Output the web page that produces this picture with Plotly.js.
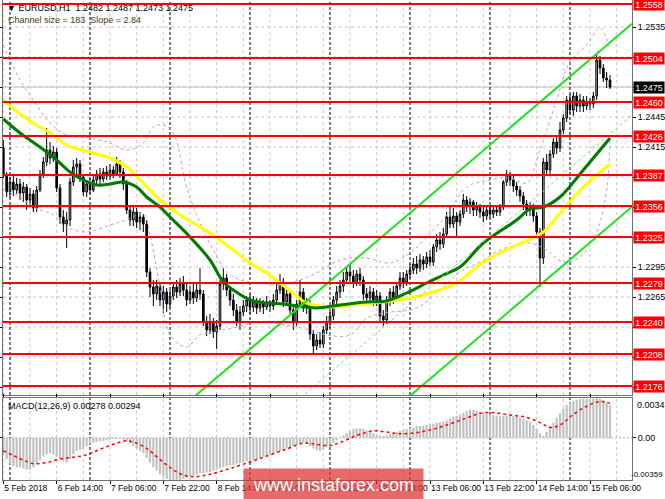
<!DOCTYPE html>
<html><head><meta charset="utf-8">
<script src="https://cdn.plot.ly/plotly-3.0.1.min.js"></script>
<style>html,body{margin:0;padding:0;background:#fff}#chart{width:665px;height:499px}</style>
</head><body><div id="chart"></div>
<script>
// ---- EURUSD H1 candles (prices in 1/10000, e.g. 12414 = 1.2414) ----
const openP = [12414,12387,12370,12380,12372,12378,12369,12375,12362,12368,
12354,12372,12388,12400,12412,12404,12410,12374,12345,12338,
12342,12380,12395,12398,12385,12370,12378,12372,12382,12388,
12383,12390,12386,12392,12388,12398,12390,12378,12352,12342,
12350,12340,12345,12338,12290,12275,12268,12276,12262,12270,
12258,12266,12275,12270,12278,12272,12262,12270,12264,12272,
12268,12240,12232,12240,12230,12236,12278,12284,12272,12262,
12252,12240,12250,12256,12262,12255,12260,12254,12258,12255,
12260,12256,12262,12272,12280,12260,12268,12252,12240,12258,
12270,12254,12258,12228,12216,12222,12218,12232,12240,12246,
12262,12270,12276,12282,12290,12286,12280,12288,12282,12268,
12264,12270,12262,12266,12246,12242,12262,12270,12264,12276,
12284,12280,12288,12292,12298,12294,12302,12298,12305,12300,
12315,12322,12318,12328,12345,12338,12346,12340,12348,12362,
12356,12360,12352,12356,12350,12346,12352,12348,12352,12350,
12355,12380,12388,12382,12376,12372,12366,12358,12352,12356,
12346,12330,12304,12400,12392,12408,12420,12414,12432,12444,
12462,12452,12466,12456,12462,12456,12460,12458,12466,12502,
12494,12484,12482];
const highP = [12422,12390,12385,12388,12384,12383,12380,12378,12374,12372,
12376,12392,12405,12434,12420,12416,12414,12378,12352,12350,
12384,12402,12404,12402,12388,12382,12384,12386,12392,12394,
12394,12396,12398,12396,12405,12402,12394,12382,12356,12356,
12354,12350,12348,12342,12294,12282,12282,12280,12276,12274,
12272,12280,12282,12284,12286,12278,12276,12280,12278,12294,
12272,12246,12248,12244,12242,12282,12294,12288,12276,12268,
12258,12256,12262,12266,12268,12266,12264,12264,12262,12266,
12262,12268,12278,12288,12284,12274,12272,12258,12262,12282,
12274,12264,12262,12232,12228,12230,12236,12246,12252,12266,
12276,12282,12290,12296,12298,12292,12292,12294,12286,12274,
12276,12274,12272,12270,12252,12266,12274,12276,12280,12290,
12290,12292,12298,12304,12306,12308,12306,12310,12312,12318,
12328,12330,12334,12350,12355,12354,12350,12352,12368,12366,
12364,12362,12360,12358,12356,12356,12356,12356,12356,12358,
12382,12392,12390,12386,12380,12376,12370,12362,12360,12358,
12350,12334,12404,12408,12412,12424,12426,12440,12448,12466,
12468,12470,12470,12468,12466,12466,12464,12470,12509,12506,
12498,12490,12487];
const lowP = [12384,12365,12364,12366,12368,12362,12360,12352,12356,12350,
12350,12370,12384,12396,12398,12400,12370,12338,12330,12314,
12336,12376,12388,12380,12366,12365,12368,12370,12378,12378,
12380,12382,12382,12384,12386,12384,12372,12348,12336,12336,
12334,12332,12330,12285,12265,12256,12262,12256,12249,12250,
12254,12262,12264,12266,12266,12256,12258,12258,12260,12262,
12236,12226,12228,12224,12213,12232,12272,12266,12256,12246,
12236,12232,12246,12250,12248,12250,12248,12250,12248,12252,
12250,12252,12258,12268,12255,12256,12248,12232,12236,12254,
12250,12248,12222,12208,12212,12214,12214,12228,12234,12242,
12256,12264,12270,12278,12280,12274,12276,12276,12262,12258,
12258,12256,12256,12240,12236,12238,12256,12258,12260,12272,
12274,12276,12284,12288,12288,12290,12292,12294,12296,12296,
12310,12312,12314,12324,12334,12334,12325,12336,12344,12350,
12348,12346,12346,12344,12340,12342,12344,12344,12346,12346,
12352,12376,12376,12370,12366,12360,12352,12346,12346,12340,
12324,12275,12298,12386,12388,12404,12408,12410,12428,12440,
12448,12446,12450,12450,12450,12452,12452,12454,12462,12488,
12480,12474,12473];
const closeP = [12387,12370,12380,12372,12378,12369,12375,12362,12368,12354,
12372,12388,12400,12412,12404,12410,12374,12345,12338,12342,
12380,12395,12398,12385,12370,12378,12372,12382,12388,12383,
12390,12386,12392,12388,12398,12390,12378,12352,12342,12350,
12340,12345,12338,12290,12275,12268,12276,12262,12270,12258,
12266,12275,12270,12278,12272,12262,12270,12264,12272,12268,
12240,12232,12240,12230,12236,12278,12284,12272,12262,12252,
12240,12250,12256,12262,12255,12260,12254,12258,12255,12260,
12256,12262,12272,12280,12260,12268,12252,12240,12258,12270,
12254,12258,12228,12216,12222,12218,12232,12240,12246,12262,
12270,12276,12282,12290,12286,12280,12288,12282,12268,12264,
12270,12262,12266,12246,12242,12262,12270,12264,12276,12284,
12280,12288,12292,12298,12294,12302,12298,12305,12300,12315,
12322,12318,12328,12345,12338,12346,12340,12348,12362,12356,
12360,12352,12356,12350,12346,12352,12348,12352,12350,12355,
12380,12388,12382,12376,12372,12366,12358,12352,12356,12346,
12330,12304,12400,12392,12408,12420,12414,12432,12444,12462,
12452,12466,12456,12462,12456,12460,12458,12466,12502,12494,
12484,12482,12475];

// ---- moving averages (bar index, price in 1/10000) ----
const yellowIdx = [0,2,9,15,19,26,32,37,42,47,54,62,69,74,79,83,87,91,99,104,114,122,129,136,144,154,162,167,174,182];
const yellowVal = [12462,12456,12439,12427,12417,12410,12404,12395,12379,12362,12345,12329,12312,12299,12289,12279,12269,12259,12255,12257,12260,12264,12270,12279,12300,12317,12330,12349,12375,12398];
const greenIdx = [0,5,11,16,20,24,28,32,36,40,43,47,50,56,62,66,69,74,79,84,88,94,101,109,115,121,127,132,137,144,154,158,162,167,174,182];
const greenVal = [12443,12429,12415,12402,12390,12382,12377,12378,12380,12375,12365,12355,12345,12325,12302,12280,12272,12262,12259,12258,12256,12254,12257,12260,12261,12269,12279,12287,12295,12319,12342,12353,12355,12365,12392,12424];

// ---- envelope bands (purple dashed) ----
const bandUpIdx = [0,5,9,14,19,26,32,37,42,45,48,51,55,59,63,67,71,77,83,89,94,99,104,109,116,122,127,133,139,146,152,157,161,166,170,175,179,182];
const bandUpVal = [12517,12482,12462,12439,12427,12424,12419,12412,12419,12435,12437,12429,12375,12339,12312,12290,12282,12279,12277,12282,12289,12299,12304,12304,12299,12309,12325,12347,12375,12382,12384,12379,12412,12462,12500,12517,12534,12512];
const bandLoIdx = [0,5,9,15,19,25,32,37,42,44,47,50,55,59,69,77,86,92,97,104,109,114,124,131,137,143,149,153,158,163,168,173,178,181,182];
const bandLoVal = [12372,12365,12355,12347,12335,12330,12337,12342,12348,12327,12275,12227,12215,12227,12234,12240,12236,12232,12227,12227,12244,12249,12254,12272,12290,12300,12312,12316,12319,12312,12300,12305,12330,12372,12422];

// ---- linear regression channel ----
const channelBars = [0, 182];
const channelMid = [11911, 12428];
const channelHalf = 91.5;
const channelRayEnd = 188.6;

// ---- horizontal levels ----
const levels = [1.2558,1.2504,1.2460,1.2426,1.2387,1.2356,1.2325,1.2279,1.2240,1.2208,1.2176];
const lastPrice = 1.2475;
const priceTicks = [1.2175,1.2205,1.2235,1.2265,1.2295,1.2325,1.2355,1.2385,1.2415,1.2445,1.2475,1.2505,1.2535];
const priceTickText = ['','','','1.2265','1.2295','','','','1.2415','1.2445','','','1.2535'];

// ---- MACD (12,26,9), values in 1/10000 ----
const macdMain = [-14,-18,-22,-24,-25,-25,-26,-27,-27,-25,
-22,-19,-16,-14,-13,-14,-16,-18,-20,-21,
-18,-14,-11,-10,-9,-7,-5,-4,-3.5,-3,
-2.5,-2,-1.5,-1,-0.8,-0.8,-1.5,-3,-5,-7,
-9,-11,-13,-17,-21,-25,-28,-31,-33,-35,
-36,-37,-36.5,-36,-35,-34,-33,-32,-31,-30,
-30,-29.5,-29,-28,-27,-26,-25,-24,-23.5,-23,
-22,-21.5,-21,-20,-19.5,-19,-18,-17,-16,-15,
-14,-13,-12,-11,-10,-9,-8,-7,-6,-4.5,
-4,-5,-7,-9,-10.5,-11,-10,-8,-6,-4,
-2,-0.5,2,4,6,7.5,8,8,7.5,6.5,
5,4,3,2,1.5,2,3,4,5,6,
7,7.5,8.5,9,10,10,10.5,11,11.5,12,
13,13.5,14,15,16.5,18,19,20,21.5,23,
24,24,23,22,21,20.5,20,19.5,19,18.5,
18.5,19,19,18.5,18,17,16,15,13.5,11,
8,4,2,5,9,13,17,21,25,28,
30,31.5,32.5,33,33.5,33.5,33,33.5,34,33.5,
32,30,27.8];
const sigIdx = [0,3,6,9,13,17,21,25,28,31,34,37,40,43,46,49,52,55,58,62,67,73,79,85,90,94,98,101,106,111,115,119,124,129,134,139,143,147,152,157,161,164,167,171,175,179,182];
const sigVal = [-11,-15,-19,-22,-21,-18,-16.5,-14.5,-11,-7.5,-4.5,-2.5,-4.5,-9,-16,-23,-29,-32.5,-33,-31,-27,-21.5,-15.5,-9.5,-4.5,-5.5,-6.5,-4,2,6,5,3.5,4.5,7.5,12,17,21,21.5,19.5,17.5,13,9,11,20,27,31,29.4];
const macdRange = [-0.00359, 0.0034];

// ---- time axis ----
const timeTickIdx = [0,16,32,48,64,80,96,112,128,144,160,176];
const timeTickText = ['5 Feb 2018','6 Feb 14:00','7 Feb 06:00','7 Feb 22:00','8 Feb 14:00','9 Feb 06:00','9 Feb 22:00','12 Feb 14:00','13 Feb 06:00','13 Feb 22:00','14 Feb 14:00','15 Feb 06:00'];
const daySepIdx = [2,26,50,74,98,122,146,170];
const gridIdx = [0,8,16,24,32,40,48,56,64,72,80,88,96,104,112,120,128,136,144,152,160,168,176,184];

const px = v => v / 10000;
const idx = openP.map((_, i) => i);
const FONT = 'Liberation Sans, Arial, sans-serif';

const traces = [];
traces.push({type:'candlestick', x: idx, open: openP.map(px), high: highP.map(px), low: lowP.map(px), close: closeP.map(px),
  xaxis:'x', yaxis:'y', whiskerwidth:0,
  increasing:{line:{color:'#000', width:1}, fillcolor:'#b4b4b4'},
  decreasing:{line:{color:'#000', width:1}, fillcolor:'#000'}, hoverinfo:'skip', showlegend:false});
traces.push({type:'scatter', mode:'lines', x: bandUpIdx, y: bandUpVal.map(px), line:{color:'#c890f0', width:1, dash:'3px,3px', shape:'spline'}, xaxis:'x', yaxis:'y', showlegend:false});
traces.push({type:'scatter', mode:'lines', x: bandLoIdx, y: bandLoVal.map(px), line:{color:'#c890f0', width:1, dash:'3px,3px', shape:'spline'}, xaxis:'x', yaxis:'y', showlegend:false});
traces.push({type:'scatter', mode:'lines', x: yellowIdx, y: yellowVal.map(px), line:{color:'#ffff00', width:3, shape:'spline'}, xaxis:'x', yaxis:'y', showlegend:false});
traces.push({type:'scatter', mode:'lines', x: greenIdx, y: greenVal.map(px), line:{color:'#007a00', width:3, shape:'spline'}, xaxis:'x', yaxis:'y', showlegend:false});

const slope = (channelMid[1] - channelMid[0]) / (channelBars[1] - channelBars[0]);
const midAt = i => channelMid[0] + slope * (i - channelBars[0]);
const chX = [channelBars[0], channelRayEnd];
traces.push({type:'scatter', mode:'lines', x: chX, y: chX.map(i => px(midAt(i) + channelHalf)), line:{color:'#22e022', width:2}, xaxis:'x', yaxis:'y', showlegend:false});
traces.push({type:'scatter', mode:'lines', x: chX, y: chX.map(i => px(midAt(i))), line:{color:'#66ee66', width:1, dash:'3px,3px'}, xaxis:'x', yaxis:'y', showlegend:false});
traces.push({type:'scatter', mode:'lines', x: chX, y: chX.map(i => px(midAt(i) - channelHalf)), line:{color:'#22e022', width:2}, xaxis:'x', yaxis:'y', showlegend:false});

traces.push({type:'bar', x: idx, y: macdMain.map(px), marker:{color:'#c0c0c0', line:{width:0}}, xaxis:'x', yaxis:'y2', showlegend:false});
traces.push({type:'scatter', mode:'lines', x: sigIdx, y: sigVal.map(px), line:{color:'#ff0000', width:1.5, dash:'dot', shape:'spline'}, xaxis:'x', yaxis:'y2', showlegend:false});

const shapes = [];
priceTicks.forEach(v => shapes.push({type:'line', xref:'paper', x0:0, x1:1, yref:'y', y0:v, y1:v, layer:'below', line:{color:'#c8c8c8', width:1, dash:'3px,3px'}}));
shapes.push({type:'line', xref:'paper', x0:0, x1:1, yref:'y', y0:lastPrice, y1:lastPrice, layer:'below', line:{color:'#c0c0c0', width:1}});
['y domain','y2 domain'].forEach(r => {
  gridIdx.forEach(g => shapes.push({type:'line', xref:'x', x0:g, x1:g, yref:r, y0:0, y1:1, layer:'below', line:{color:'#c8c8c8', width:1, dash:'3px,3px'}}));
  daySepIdx.forEach(g => shapes.push({type:'line', xref:'x', x0:g, x1:g, yref:r, y0:0, y1:1, layer:'below', line:{color:'#000', width:1, dash:'3px,2px'}}));
});
shapes.push({type:'line', xref:'paper', x0:0, x1:1, yref:'y2', y0:0, y1:0, layer:'below', line:{color:'#b0b0b0', width:1, dash:'2px,2px'}});
levels.forEach(v => shapes.push({type:'line', xref:'paper', x0:0, x1:1, yref:'y', y0:v, y1:v, layer:'above', line:{color:'#ff0000', width:2}}));

const annotations = [];
levels.forEach(v => annotations.push({xref:'paper', x:1, xanchor:'left', xshift:1, yref:'y', y:v, yanchor:'middle', text:v.toFixed(4), showarrow:false,
  bgcolor:'#ff0000', font:{family:FONT, size:9, color:'#fff'}, width:30, height:11, borderpad:0}));
annotations.push({xref:'paper', x:1, xanchor:'left', xshift:1, yref:'y', y:lastPrice, yanchor:'middle', text:lastPrice.toFixed(4), showarrow:false,
  bgcolor:'#000', font:{family:FONT, size:9, color:'#fff'}, width:30, height:11, borderpad:0});
annotations.push({xref:'paper', x:0.003, xanchor:'left', yref:'paper', y:1-8/480, yanchor:'middle', showarrow:false,
  text:'▼ EURUSD,H1\u00a0\u00a01.2482 1.2487 1.2473 1.2475', font:{family:FONT, size:9, color:'#000'}});
annotations.push({xref:'paper', x:0.005, xanchor:'left', yref:'paper', y:1-20/480, yanchor:'middle', showarrow:false,
  text:'Channel size = 183\u00a0\u00a0Slope = 2.84', font:{family:FONT, size:9, color:'#4a3410'}});
annotations.push({xref:'paper', x:0.005, xanchor:'left', yref:'paper', y:1-406/480, yanchor:'middle', showarrow:false,
  text:'MACD(12,26,9) 0.00278 0.00294', font:{family:FONT, size:9, color:'#000'}});
annotations.push({xref:'paper', x:1, xanchor:'left', xshift:3, yref:'y2', y:macdRange[1], yanchor:'top', showarrow:false,
  text:'0.0034', font:{family:FONT, size:9, color:'#000'}});
annotations.push({xref:'paper', x:1, xanchor:'left', xshift:-2, yref:'y2', y:macdRange[0], yanchor:'bottom', showarrow:false,
  text:'-0.00359', font:{family:FONT, size:8, color:'#000'}, borderpad:0});
annotations.push({xref:'paper', x:(333.5-3)/629, xanchor:'center', yref:'paper', y:1-484.5/480, yanchor:'middle', showarrow:false,
  text:'www.instaforex.com', width:177, height:29, bgcolor:'rgba(222,48,48,0.72)', font:{family:FONT, size:18, color:'#fff'}});

const layout = {
  width:665, height:499, margin:{l:3, r:33, t:0, b:19},
  paper_bgcolor:'#fff', plot_bgcolor:'#fff', showlegend:false, bargap:0.35, hovermode:false,
  xaxis:{range:[-0.1, channelRayEnd], anchor:'y2', showgrid:false, zeroline:false, tickmode:'array', tickvals:timeTickIdx, ticktext:timeTickText,
    tickangle:0, ticks:'outside', ticklen:3, tickcolor:'#000', ticklabelposition:'outside right', tickfont:{family:FONT, size:8.5, color:'#000'},
    showline:true, linecolor:'#707070', mirror:'all', rangeslider:{visible:false}, fixedrange:true},
  yaxis:{domain:[85/480, 1], range:[1.2167, 1.2562], side:'right', anchor:'x', tickmode:'array', tickvals:priceTicks, ticktext:priceTickText,
    ticks:'outside', ticklen:3, tickcolor:'#000', showgrid:false, zeroline:false, showline:true, linecolor:'#707070', mirror:'all',
    tickfont:{family:FONT, size:9, color:'#000'}},
  yaxis2:{domain:[0, 82/480], range:macdRange, side:'right', anchor:'x', tickmode:'array', tickvals:[0], ticktext:['0.00'],
    ticks:'outside', ticklen:3, tickcolor:'#000', showgrid:false, zeroline:false, showline:true, linecolor:'#707070', mirror:'all',
    tickfont:{family:FONT, size:9, color:'#000'}},
  shapes, annotations
};
Plotly.newPlot('chart', traces, layout, {staticPlot:true, displayModeBar:false});
</script></body></html>
